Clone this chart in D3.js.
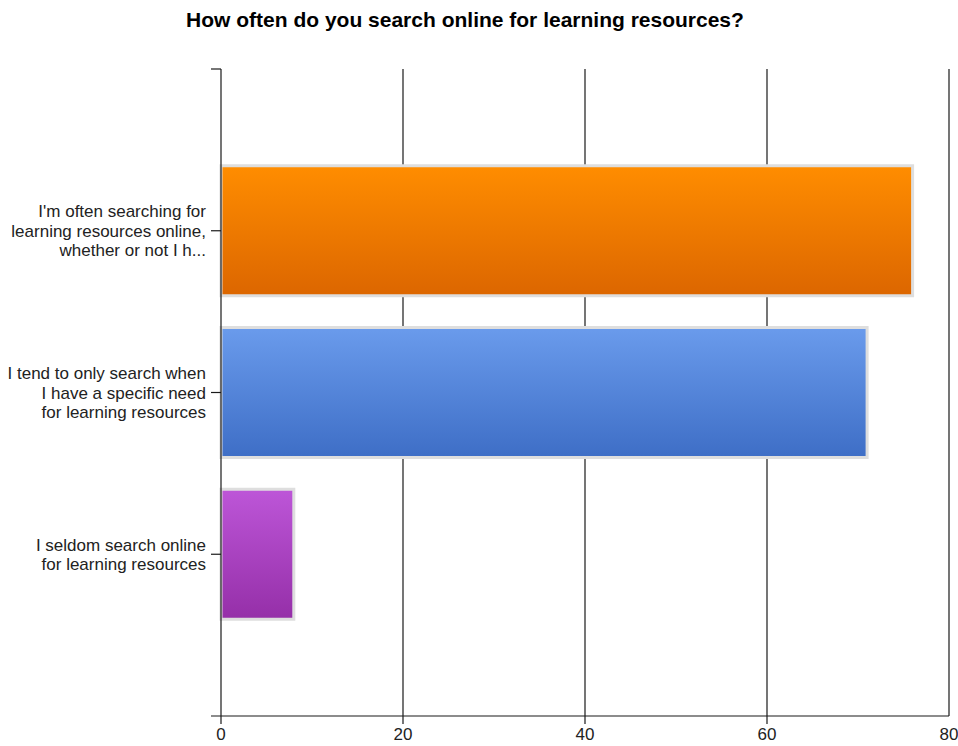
<!DOCTYPE html>
<html>
<head>
<meta charset="utf-8">
<script src="https://cdn.jsdelivr.net/npm/d3@7"></script>
<style>
  html, body { margin: 0; padding: 0; background: #fff; }
  svg { display: block; font-family: "Liberation Sans", Arial, sans-serif; }
</style>
</head>
<body>
<svg id="chart" width="958" height="746"></svg>
<script>
// Survey answers (label lines joined with "\n") and response counts
const categories = [
  "I'm often searching for\nlearning resources online,\nwhether or not I h...",
  "I tend to only search when\nI have a specific need\nfor learning resources",
  "I seldom search online\nfor learning resources"
];
const counts = [76, 71, 8];
const xTicks = [0, 20, 40, 60, 80];
const barColors = [
  ["#ff8d00", "#dc6600"],
  ["#6a9bec", "#3e6ec6"],
  ["#bd56d8", "#952fa8"]
];
const title = "How often do you search online for learning resources?";

const svg = d3.select("#chart");
const margin = { top: 69, left: 221 };
const plotBottom = 716, plotRight = 949;
const axisColor = "#1a1a1a";

const x = d3.scaleLinear().domain([0, 80]).range([margin.left, plotRight]);
const y = d3.scalePoint().domain(d3.range(categories.length))
  .range([margin.top, plotBottom]).padding(1);
const barH = 130;

// vertical gradients for the bars
const defs = svg.append("defs");
barColors.forEach((c, i) => {
  const g = defs.append("linearGradient").attr("id", "grad" + i)
    .attr("x1", 0).attr("y1", 0).attr("x2", 0).attr("y2", 1);
  g.append("stop").attr("offset", "0%").attr("stop-color", c[0]);
  g.append("stop").attr("offset", "100%").attr("stop-color", c[1]);
});

// title
svg.append("text")
  .attr("x", 465).attr("y", 27)
  .attr("text-anchor", "middle")
  .attr("font-weight", "bold")
  .attr("font-size", 21)
  .attr("fill", "#000")
  .text(title);

// vertical gridlines, extended past the baseline as ticks
svg.append("g").selectAll("line").data(xTicks.filter(d => d > 0)).join("line")
  .attr("x1", d => x(d)).attr("x2", d => x(d))
  .attr("y1", margin.top).attr("y2", d => d === 80 ? plotBottom : plotBottom + 8)
  .attr("stroke", axisColor).attr("stroke-width", 1.2);

// bars
svg.append("g").selectAll("rect").data(counts).join("rect")
  .attr("x", x(0))
  .attr("y", (d, i) => y(i) - barH / 2)
  .attr("width", d => x(d) - x(0))
  .attr("height", barH)
  .attr("fill", (d, i) => `url(#grad${i})`)
  .attr("stroke", "#dedede")
  .attr("stroke-width", 3);

// y axis line and category ticks
svg.append("line")
  .attr("x1", x(0)).attr("x2", x(0))
  .attr("y1", margin.top).attr("y2", plotBottom + 8)
  .attr("stroke", axisColor).attr("stroke-width", 1.2);
svg.append("line")
  .attr("x1", x(0) - 10).attr("x2", x(0))
  .attr("y1", margin.top).attr("y2", margin.top)
  .attr("stroke", axisColor).attr("stroke-width", 1.2);
svg.append("g").selectAll("line").data(categories).join("line")
  .attr("x1", x(0) - 10).attr("x2", x(0))
  .attr("y1", (d, i) => y(i)).attr("y2", (d, i) => y(i))
  .attr("stroke", axisColor).attr("stroke-width", 1.2);

// x axis baseline
svg.append("line")
  .attr("x1", x(0) - 10).attr("x2", plotRight)
  .attr("y1", plotBottom).attr("y2", plotBottom)
  .attr("stroke", axisColor).attr("stroke-width", 1.2);

// x tick labels
svg.append("g").selectAll("text").data(xTicks).join("text")
  .attr("x", d => x(d)).attr("y", plotBottom + 24)
  .attr("text-anchor", "middle")
  .attr("font-size", 17)
  .attr("fill", "#222")
  .text(d => d);

// category labels, one tspan per line
const lineH = 19.5;
svg.append("g").selectAll("text").data(categories).join("text")
  .attr("text-anchor", "end")
  .attr("font-size", 17)
  .attr("fill", "#222")
  .each(function (d, i) {
    const lines = d.split("\n");
    const t = d3.select(this);
    const y0 = y(i) - (lines.length - 1) * lineH / 2 + 6;
    lines.forEach((ln, k) => {
      t.append("tspan").attr("x", x(0) - 15).attr("y", y0 + k * lineH).text(ln);
    });
  });
</script>
</body>
</html>
